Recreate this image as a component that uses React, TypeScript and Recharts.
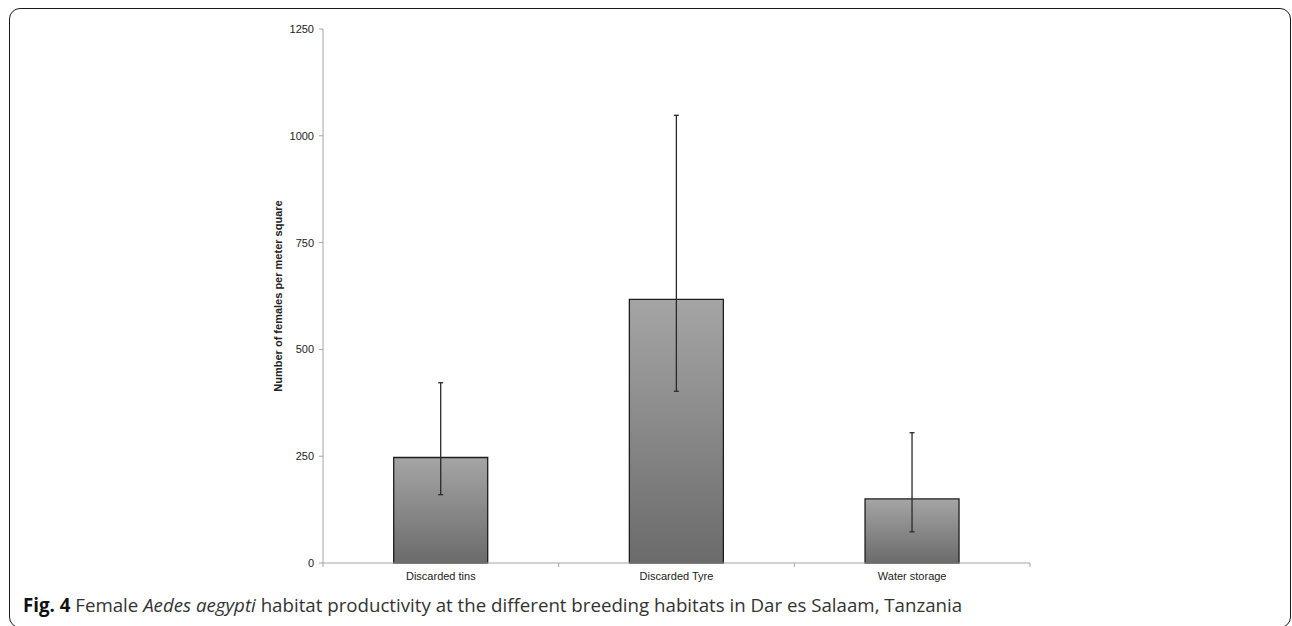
import React from "react";
import { BarChart, Bar, XAxis, YAxis, ErrorBar } from "recharts";

const categories = ["Discarded tins", "Discarded Tyre", "Water storage"];
const means = [247, 617, 150];
const lowerErr = [87, 215, 77];
const upperErr = [175, 431, 155];
const yTicks = [0, 250, 500, 750, 1000, 1250];

const data = categories.map((name, i) => ({
  name,
  value: means[i],
  err: [lowerErr[i], upperErr[i]],
}));

const AXIS_COLOR = "#a6a6a6";
const TEXT_COLOR = "#222";

const XTick = (props: any) => {
  const { x, y, payload, index, visibleTicksCount } = props;
  const off = payload.offset || 0;
  const axisY = y - 2;
  return (
    <g>
      <line x1={x - off} y1={axisY} x2={x - off} y2={axisY + 4} stroke={AXIS_COLOR} strokeWidth={1} />
      {index === visibleTicksCount - 1 && (
        <line x1={x + off} y1={axisY} x2={x + off} y2={axisY + 4} stroke={AXIS_COLOR} strokeWidth={1} />
      )}
      <text
        x={x}
        y={y + 15}
        textAnchor="middle"
        fill={TEXT_COLOR}
        fontFamily="'Liberation Sans', Arial, sans-serif"
        fontSize={11}
      >
        {payload.value}
      </text>
    </g>
  );
};

const YLabel = (props: any) => {
  const vb = props.viewBox;
  const cx = vb.x + 15;
  const cy = vb.y + vb.height / 2;
  return (
    <text
      x={cx}
      y={cy}
      transform={`rotate(-90, ${cx}, ${cy})`}
      textAnchor="middle"
      dominantBaseline="central"
      fontFamily="'Liberation Sans', Arial, sans-serif"
      fontWeight="bold"
      fontSize={11}
      fill={TEXT_COLOR}
    >
      Number of females per meter square
    </text>
  );
};

export default function App() {
  return (
    <div style={{ position: "absolute", left: 0, top: 0, width: 1292, height: 626, background: "#fff", overflow: "hidden" }}>
      <div
        style={{
          position: "absolute",
          left: 9,
          top: 8,
          width: 1282,
          height: 620,
          boxSizing: "border-box",
          border: "1.6px solid #1a1a1a",
          borderRadius: 11,
        }}
      />
      <div style={{ position: "absolute", left: 0, top: 0 }}>
        <BarChart
          width={1292}
          height={626}
          data={data}
          margin={{ top: 29, right: 262, bottom: 33, left: 263 }}
          barCategoryGap="30%"
        >
          <defs>
            <linearGradient id="barGrad" x1="0" y1="0" x2="0" y2="1">
              <stop offset="0%" stopColor="#a4a5a4" />
              <stop offset="100%" stopColor="#6b6b6b" />
            </linearGradient>
          </defs>
          <XAxis
            dataKey="name"
            height={30}
            stroke={AXIS_COLOR}
            tickLine={false}
            tickSize={0}
            tick={<XTick />}
          />
          <YAxis
            width={60}
            domain={[0, 1250]}
            ticks={yTicks}
            interval={0}
            stroke={AXIS_COLOR}
            tickSize={4}
            tickMargin={5}
            tick={{ fill: TEXT_COLOR, stroke: "none", fontSize: 11, fontFamily: "'Liberation Sans', Arial, sans-serif" }}
            label={<YLabel />}
          />
          <Bar dataKey="value" fill="url(#barGrad)" stroke="#1e1e1e" strokeWidth={1.3} isAnimationActive={false}>
            <ErrorBar dataKey="err" width={2.5} stroke="#2a2a2a" strokeWidth={1.3} direction="y" isAnimationActive={false} />
          </Bar>
        </BarChart>
      </div>
      <div
        style={{
          position: "absolute",
          left: 23,
          top: 594,
          fontFamily: "'Open Sans', sans-serif",
          fontSize: 18.7,
          color: "#333",
          whiteSpace: "nowrap",
          lineHeight: "22px",
        }}
      >
        <b style={{ color: "#111" }}>Fig. 4</b> Female <i>Aedes aegypti</i> habitat productivity at the different breeding habitats in Dar es Salaam, Tanzania
      </div>
    </div>
  );
}
